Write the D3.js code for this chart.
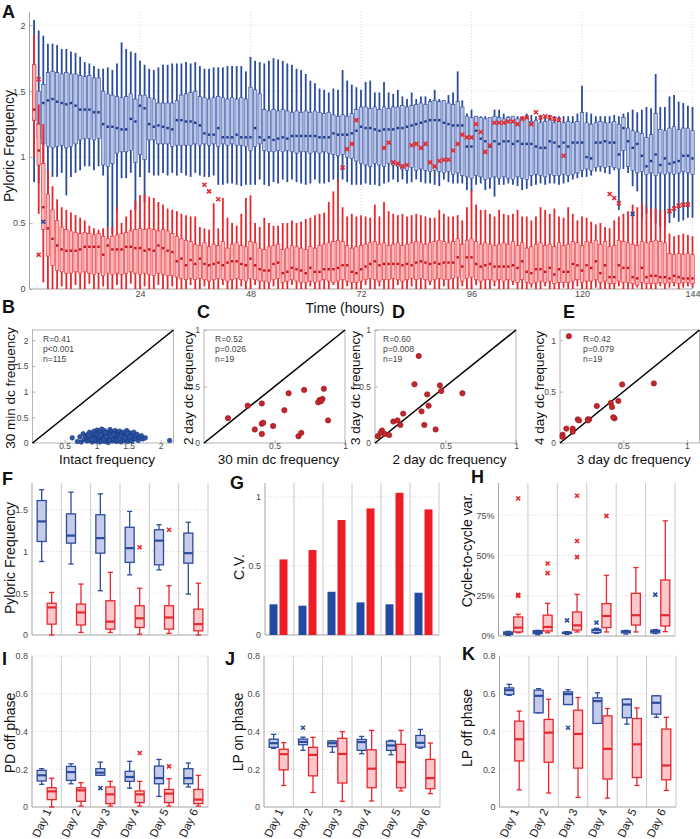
<!DOCTYPE html>
<html>
<head>
<meta charset="utf-8">
<script src="https://cdn.jsdelivr.net/npm/d3@7"></script>
<style>
html,body{margin:0;padding:0;background:#fff;}
svg{display:block;}
</style>
</head>
<body>
<svg id="fig" width="700" height="839" xmlns="http://www.w3.org/2000/svg"></svg>
<script>
// ================= DATA =================
// Panel A: hourly box statistics (hours 1..144)
const hours = d3.range(1, 145);
const aXTicks = [24, 48, 72, 96, 120, 144];
const aYTicks = [0, 0.5, 1, 1.5, 2];

const blueHi = [
2.04,1.96,1.92,1.86,1.86,1.85,1.82,1.82,1.80,1.79,
1.76,1.72,1.71,1.69,1.67,1.67,1.68,1.66,1.71,1.87,
1.82,1.80,1.79,1.73,1.70,1.67,1.66,1.68,1.70,1.70,
1.71,1.71,1.71,1.72,1.71,1.72,1.69,1.67,1.67,1.68,
1.68,1.68,1.69,1.69,1.69,1.69,1.65,1.76,1.73,1.72,
1.71,1.73,1.75,1.74,1.73,1.71,1.70,1.67,1.66,1.63,
1.58,1.56,1.52,1.51,1.49,1.52,1.51,1.66,1.58,1.55,
1.53,1.51,1.57,1.58,1.49,1.49,1.57,1.49,1.48,1.51,
1.46,1.44,1.49,1.44,1.46,1.46,1.44,1.51,1.44,1.43,
1.47,1.49,1.65,1.43,1.33,1.36,1.31,1.31,1.31,1.28,
1.36,1.36,1.33,1.31,1.31,1.31,1.31,1.33,1.32,1.31,
1.32,1.31,1.32,1.31,1.31,1.31,1.31,1.31,1.33,1.54,
1.34,1.33,1.31,1.31,1.31,1.31,1.32,1.31,1.33,1.34,
1.36,1.34,1.36,1.38,1.37,1.63,1.38,1.38,1.46,1.47,
1.42,1.41,1.39,1.38];
const blueQ3 = [
1.70,1.50,1.55,1.64,1.65,1.64,1.63,1.64,1.63,1.63,
1.62,1.61,1.62,1.60,1.60,1.50,1.48,1.47,1.46,1.45,
1.46,1.48,1.44,1.47,1.47,1.45,1.44,1.41,1.41,1.41,
1.41,1.43,1.47,1.48,1.49,1.50,1.46,1.45,1.44,1.45,
1.46,1.45,1.44,1.45,1.44,1.45,1.44,1.53,1.51,1.48,
1.36,1.35,1.36,1.35,1.36,1.35,1.34,1.35,1.34,1.35,
1.34,1.35,1.34,1.33,1.34,1.32,1.31,1.32,1.31,1.33,
1.36,1.38,1.38,1.37,1.38,1.36,1.38,1.37,1.38,1.38,
1.39,1.38,1.39,1.40,1.41,1.40,1.42,1.43,1.42,1.43,
1.41,1.40,1.42,1.38,1.31,1.30,1.31,1.30,1.29,1.30,
1.31,1.30,1.29,1.30,1.31,1.29,1.30,1.30,1.27,1.28,
1.26,1.27,1.28,1.26,1.27,1.26,1.27,1.26,1.27,1.34,
1.26,1.25,1.26,1.27,1.26,1.26,1.27,1.25,1.30,1.22,
1.20,1.19,1.18,1.15,1.17,1.33,1.21,1.20,1.22,1.23,
1.21,1.22,1.22,1.20];
const blueMed = [
1.56,1.25,1.41,1.43,1.44,1.42,1.41,1.40,1.41,1.39,
1.36,1.36,1.36,1.34,1.34,1.25,1.23,1.23,1.22,1.21,
1.21,1.29,1.27,1.39,1.37,1.25,1.23,1.24,1.23,1.22,
1.21,1.28,1.28,1.27,1.27,1.26,1.24,1.18,1.17,1.17,
1.22,1.15,1.15,1.15,1.17,1.15,1.15,1.15,1.22,1.15,
1.13,1.15,1.13,1.14,1.15,1.14,1.16,1.16,1.16,1.16,
1.16,1.16,1.15,1.15,1.15,1.18,1.17,1.17,1.17,1.18,
1.20,1.23,1.22,1.22,1.21,1.20,1.21,1.21,1.21,1.22,
1.22,1.23,1.24,1.25,1.26,1.27,1.28,1.28,1.28,1.26,
1.25,1.24,1.24,1.24,1.08,1.08,1.20,1.14,1.12,1.08,
1.12,1.10,1.12,1.12,1.10,1.12,1.10,1.10,1.10,1.08,
1.07,1.07,1.12,1.11,1.08,1.11,1.08,1.11,1.11,1.11,
1.00,0.99,1.11,1.11,1.12,1.11,1.11,1.02,1.22,1.12,
1.07,1.10,1.01,0.93,0.97,1.02,0.94,0.99,0.95,0.96,
0.97,1.01,1.01,0.99];
const blueQ1 = [
1.28,1.14,1.10,1.08,1.07,1.08,1.09,1.07,1.08,1.10,
1.13,1.14,1.14,1.13,1.14,0.94,0.93,0.95,1.03,1.04,
1.04,1.05,0.96,1.02,0.98,1.13,1.13,1.10,1.10,1.10,
1.08,1.09,1.09,1.09,1.09,1.10,1.09,1.10,1.09,1.10,
1.08,1.10,1.09,1.10,1.09,1.09,1.08,1.05,1.08,1.10,
1.05,1.04,1.04,1.05,1.04,1.05,1.04,1.03,1.04,1.04,
1.03,1.04,1.03,1.04,1.03,1.02,1.01,1.02,1.00,0.99,
0.97,0.95,0.94,0.93,0.95,0.94,0.93,0.95,0.94,0.93,
0.91,0.90,0.92,0.90,0.91,0.90,0.89,0.90,0.89,0.88,
0.89,0.87,0.88,0.86,0.85,0.84,0.86,0.85,0.83,0.84,
0.85,0.84,0.85,0.84,0.83,0.85,0.84,0.83,0.86,0.87,
0.86,0.85,0.87,0.86,0.86,0.87,0.86,0.87,0.88,0.90,
0.91,0.90,0.92,0.93,0.92,0.93,0.92,0.91,1.05,0.93,
0.90,0.88,0.89,0.87,0.88,0.86,0.88,0.87,0.88,0.87,
0.88,0.89,0.88,0.87];
const blueLo = [
0.81,0.80,0.90,0.57,0.85,0.85,0.88,0.71,0.85,0.88,
0.90,0.93,0.93,0.90,0.93,0.86,0.47,0.42,0.60,0.84,
0.84,0.88,0.60,0.85,0.66,0.88,0.86,0.86,0.88,0.86,
0.88,0.86,0.88,0.86,0.85,0.88,0.86,0.85,0.85,0.86,
0.79,0.79,0.80,0.80,0.79,0.78,0.79,0.79,0.79,0.83,
0.79,0.78,0.81,0.80,0.83,0.81,0.83,0.81,0.80,0.79,
0.80,0.83,0.80,0.80,0.81,0.83,0.81,0.83,0.81,0.79,
0.79,0.79,0.80,0.79,0.79,0.78,0.80,0.81,0.83,0.81,
0.83,0.80,0.81,0.83,0.81,0.80,0.80,0.79,0.78,0.83,
0.81,0.80,0.80,0.80,0.75,0.74,0.79,0.80,0.75,0.76,
0.70,0.79,0.79,0.80,0.79,0.78,0.75,0.76,0.78,0.79,
0.80,0.79,0.80,0.80,0.79,0.80,0.81,0.83,0.84,0.85,
0.85,0.86,0.89,0.89,0.88,0.87,0.90,0.60,0.91,0.88,
0.78,0.74,0.54,0.57,0.54,0.50,0.47,0.48,0.50,0.54,
0.51,0.52,0.54,0.54];

const redHi = [
1.93,1.40,1.25,0.90,0.78,0.68,0.62,0.60,0.58,0.56,
0.54,0.52,0.48,0.46,0.45,0.46,0.47,0.47,0.62,0.50,
0.55,0.60,0.67,0.71,0.72,0.70,0.69,0.66,0.64,0.61,
0.60,0.59,0.57,0.56,0.55,0.55,0.47,0.46,0.45,0.65,
0.46,0.69,0.54,0.50,0.48,0.57,0.69,0.71,0.50,0.47,
0.54,0.50,0.48,0.48,0.50,0.50,0.52,0.50,0.51,0.53,
0.54,0.56,0.57,0.58,0.66,0.74,0.83,0.62,0.55,0.57,
0.55,0.56,0.55,0.54,0.64,0.55,0.66,0.59,0.57,0.56,
0.57,0.55,0.56,0.57,0.56,0.55,0.54,0.54,0.60,0.57,
0.55,0.55,0.56,0.52,0.62,0.75,0.64,0.60,0.60,0.57,
0.55,0.60,0.57,0.56,0.57,0.60,0.55,0.55,0.52,0.55,
0.62,0.60,0.57,0.61,0.55,0.54,0.62,0.57,0.52,0.55,
0.54,0.51,0.49,0.50,0.47,0.46,0.52,0.55,0.57,0.59,
0.64,0.62,0.65,0.62,0.61,0.61,0.60,0.59,0.42,0.40,
0.41,0.42,0.41,0.40];
const redQ3 = [
1.70,1.25,0.95,0.72,0.60,0.52,0.47,0.45,0.44,0.43,
0.42,0.43,0.42,0.41,0.42,0.40,0.38,0.40,0.41,0.42,
0.43,0.44,0.45,0.46,0.45,0.46,0.45,0.44,0.45,0.44,
0.42,0.40,0.38,0.37,0.36,0.34,0.33,0.35,0.32,0.34,
0.33,0.36,0.31,0.34,0.35,0.33,0.32,0.36,0.35,0.31,
0.30,0.32,0.33,0.34,0.30,0.31,0.33,0.32,0.31,0.30,
0.32,0.31,0.33,0.34,0.35,0.36,0.37,0.36,0.33,0.31,
0.32,0.33,0.34,0.35,0.36,0.34,0.35,0.33,0.34,0.35,
0.33,0.34,0.35,0.36,0.35,0.34,0.35,0.36,0.37,0.36,
0.35,0.36,0.38,0.34,0.37,0.38,0.36,0.34,0.35,0.34,
0.33,0.34,0.35,0.34,0.36,0.33,0.35,0.31,0.32,0.34,
0.35,0.33,0.34,0.32,0.35,0.33,0.34,0.36,0.35,0.33,
0.36,0.35,0.37,0.34,0.36,0.32,0.33,0.37,0.36,0.35,
0.34,0.33,0.36,0.35,0.36,0.37,0.36,0.35,0.27,0.26,
0.27,0.26,0.27,0.26];
const redMed = [
1.36,1.05,0.62,0.46,0.38,0.33,0.30,0.29,0.29,0.29,
0.30,0.32,0.32,0.32,0.32,0.26,0.33,0.30,0.30,0.30,
0.32,0.32,0.31,0.31,0.29,0.30,0.29,0.33,0.31,0.29,
0.28,0.21,0.23,0.18,0.22,0.19,0.23,0.19,0.18,0.19,
0.20,0.18,0.20,0.21,0.21,0.19,0.18,0.23,0.18,0.15,
0.14,0.14,0.19,0.20,0.12,0.13,0.16,0.15,0.14,0.12,
0.16,0.13,0.13,0.15,0.15,0.15,0.16,0.18,0.18,0.13,
0.12,0.15,0.17,0.19,0.21,0.18,0.19,0.19,0.19,0.19,
0.18,0.19,0.18,0.20,0.21,0.20,0.19,0.20,0.19,0.20,
0.20,0.20,0.24,0.17,0.24,0.24,0.19,0.17,0.18,0.19,
0.17,0.17,0.17,0.17,0.18,0.16,0.21,0.13,0.12,0.15,
0.15,0.13,0.16,0.11,0.15,0.13,0.13,0.19,0.18,0.14,
0.18,0.16,0.21,0.12,0.18,0.09,0.09,0.18,0.16,0.16,
0.09,0.08,0.16,0.09,0.10,0.10,0.09,0.09,0.08,0.10,
0.09,0.08,0.08,0.08];
const redQ1 = [
1.28,0.94,0.45,0.25,0.18,0.14,0.13,0.12,0.12,0.13,
0.12,0.13,0.12,0.11,0.12,0.10,0.12,0.11,0.12,0.11,
0.12,0.13,0.12,0.11,0.12,0.11,0.10,0.12,0.11,0.10,
0.10,0.09,0.08,0.07,0.08,0.07,0.08,0.07,0.06,0.07,
0.08,0.07,0.06,0.07,0.08,0.07,0.06,0.08,0.07,0.06,
0.06,0.05,0.07,0.08,0.05,0.06,0.07,0.06,0.05,0.05,
0.06,0.05,0.06,0.07,0.06,0.05,0.06,0.07,0.06,0.05,
0.05,0.06,0.07,0.08,0.07,0.06,0.07,0.07,0.08,0.07,
0.06,0.07,0.08,0.07,0.08,0.07,0.06,0.07,0.08,0.07,
0.07,0.08,0.09,0.06,0.08,0.09,0.07,0.06,0.07,0.07,
0.06,0.07,0.06,0.07,0.06,0.05,0.07,0.05,0.04,0.05,
0.06,0.05,0.06,0.04,0.05,0.05,0.05,0.06,0.07,0.05,
0.06,0.06,0.07,0.05,0.06,0.04,0.04,0.06,0.05,0.05,
0.04,0.03,0.05,0.04,0.04,0.04,0.05,0.04,0.05,0.05,
0.04,0.05,0.05,0.04];
const redLo = [
1.00,0.57,0.05,0.00,0.00,0.00,0.02,0.00,0.00,0.03,
0.00,0.00,0.04,0.00,0.00,0.02,0.00,0.00,0.03,0.00,
0.00,0.04,0.00,0.00,0.02,0.00,0.00,0.03,0.00,0.00,
0.02,0.00,0.00,0.00,0.03,0.00,0.00,0.02,0.00,0.00,
0.00,0.03,0.00,0.00,0.00,0.02,0.00,0.00,0.03,0.00,
0.00,0.00,0.02,0.00,0.00,0.00,0.03,0.00,0.00,0.00,
0.02,0.00,0.00,0.00,0.00,0.03,0.00,0.00,0.02,0.00,
0.00,0.00,0.03,0.00,0.00,0.02,0.00,0.00,0.00,0.03,
0.00,0.00,0.02,0.00,0.00,0.00,0.03,0.00,0.00,0.02,
0.00,0.00,0.00,0.02,0.00,0.00,0.03,0.00,0.00,0.00,
0.02,0.00,0.00,0.00,0.03,0.00,0.00,0.00,0.01,0.00,
0.00,0.02,0.00,0.00,0.00,0.01,0.00,0.00,0.02,0.00,
0.00,0.00,0.01,0.00,0.00,0.00,0.00,0.02,0.00,0.00,
0.00,0.01,0.00,0.00,0.00,0.00,0.02,0.00,0.01,0.02,
0.00,0.01,0.02,0.01];
const redOutliersA = [[2,1.59],[2,0.26],[38,0.79],[39,0.74],[41,0.68],[68,0.92],[69,1.06],[70,1.10],[71,1.28],
[77,1.07],[78,1.11],[79,0.96],[80,0.95],[81,0.93],[82,0.94],[83,1.09],[84,1.10],[85,1.07],[86,1.10],[87,0.96],
[88,0.93],[89,0.97],[90,0.98],[91,0.98],[92,1.05],[93,1.10],[94,1.17],[95,1.15],[96,1.15],[97,1.25],[98,1.19],
[99,1.04],[100,1.09],[101,1.26],[102,1.26],[103,1.26],[104,1.27],[105,1.27],[106,1.25],[107,1.29],[108,1.30],
[109,1.25],[110,1.34],[111,1.30],[112,1.31],[113,1.30],[114,1.29],[115,1.28],[116,1.01],[126,0.72],[127,0.69],
[128,0.65],[139,0.59],[140,0.61],[141,0.63],[142,0.64],[143,0.64]];
const blueOutliersA = [[3,0.51],[131,0.57]];

// Panels B-E: scatter points [x, y]
const intactVs30min = [
[0.62,0.10],[0.70,0.03],[0.74,0.12],[0.76,0.02],[0.79,0.18],[0.81,0.07],[0.83,0.13],[0.85,0.04],[0.86,0.16],[0.88,0.09],
[0.89,0.21],[0.90,0.05],[0.91,0.14],[0.92,0.11],[0.93,0.02],[0.94,0.18],[0.95,0.08],[0.96,0.23],[0.97,0.13],[0.98,0.04],
[0.99,0.17],[1.00,0.10],[1.01,0.25],[1.02,0.06],[1.03,0.20],[1.04,0.14],[1.05,0.02],[1.06,0.22],[1.07,0.09],[1.08,0.27],
[1.09,0.15],[1.10,0.05],[1.10,0.19],[1.11,0.11],[1.12,0.24],[1.13,0.03],[1.14,0.16],[1.15,0.08],[1.16,0.21],[1.17,0.13],
[1.18,0.01],[1.19,0.18],[1.20,0.10],[1.21,0.26],[1.22,0.06],[1.23,0.15],[1.24,0.22],[1.25,0.04],[1.26,0.12],[1.27,0.19],
[1.28,0.08],[1.29,0.24],[1.30,0.14],[1.31,0.03],[1.32,0.20],[1.33,0.10],[1.34,0.17],[1.35,0.06],[1.36,0.23],[1.37,0.12],
[1.38,0.02],[1.39,0.19],[1.40,0.09],[1.41,0.15],[1.42,0.21],[1.43,0.05],[1.44,0.13],[1.45,0.18],[1.46,0.08],[1.47,0.24],
[1.48,0.11],[1.49,0.03],[1.50,0.16],[1.51,0.20],[1.52,0.07],[1.53,0.13],[1.54,0.18],[1.55,0.04],[1.56,0.10],[1.57,0.15],
[1.58,0.21],[1.60,0.08],[1.61,0.13],[1.63,0.17],[1.65,0.05],[1.67,0.11],[1.70,0.14],[1.72,0.08],[1.76,0.10],[0.97,0.06],
[1.03,0.12],[1.08,0.04],[1.13,0.20],[1.18,0.14],[1.24,0.09],[1.29,0.16],[1.35,0.13],[1.42,0.07],[1.47,0.16],[1.02,0.16],
[1.12,0.07],[1.22,0.13],[1.32,0.06],[1.44,0.10],[0.88,0.15],[0.93,0.07],[1.15,0.12],[1.26,0.17],[1.38,0.14],[1.52,0.12],
[1.06,0.15],[1.36,0.09],[1.48,0.19],[1.20,0.05],[2.14,0.05]];
const min30Vs2day = [[0.17,0.22],[0.31,0.33],[0.41,0.35],[0.41,0.17],[0.36,0.12],[0.41,0.08],[0.49,0.15],[0.57,0.29],[0.60,0.44],[0.71,0.47],
[0.67,0.06],[0.69,0.09],[0.82,0.38],[0.84,0.39],[0.85,0.48],[0.81,0.36],[0.88,0.20],[0.83,0.37],[0.42,0.18]];
const day2Vs3day = [[0.31,0.77],[0.28,0.52],[0.46,0.51],[0.47,0.46],[0.37,0.43],[0.62,0.44],[0.38,0.33],[0.33,0.28],[0.20,0.26],[0.13,0.19],
[0.16,0.20],[0.18,0.16],[0.35,0.16],[0.43,0.12],[0.05,0.11],[0.04,0.09],[0.07,0.08],[0.10,0.07],[0.02,0.06]];
const day3Vs4day = [[0.07,1.04],[0.74,0.58],[0.49,0.57],[0.46,0.41],[0.40,0.39],[0.41,0.35],[0.29,0.36],[0.43,0.24],[0.22,0.23],[0.23,0.23],
[0.14,0.23],[0.15,0.22],[0.10,0.14],[0.05,0.14],[0.10,0.11],[0.02,0.08],[0.02,0.06],[0.22,0.22],[0.42,0.25]];
const statsB = ["R=0.41", "p<0.001", "n=115"];
const statsC = ["R=0.52", "p=0.026", "n=19"];
const statsD = ["R=0.60", "p=0.008", "n=19"];
const statsE = ["R=0.42", "p=0.079", "n=19"];

// Panels F-K: per-day box stats [hi, q3, median, q1, lo]
const days = ["Day 1", "Day 2", "Day 3", "Day 4", "Day 5", "Day 6"];
const fBlue = [[1.74,1.61,1.36,1.12,0.88],[1.71,1.45,1.19,1.10,0.85],[1.69,1.44,1.16,0.98,0.53],[1.48,1.29,1.04,0.87,0.72],[1.32,1.26,1.13,0.84,0.78],[1.35,1.22,0.98,0.86,0.49]];
const fRed  = [[0.51,0.38,0.33,0.13,0.00],[0.61,0.37,0.27,0.12,0.03],[0.75,0.41,0.16,0.07,0.03],[0.56,0.35,0.20,0.09,0.01],[0.59,0.35,0.21,0.07,0.02],[0.62,0.31,0.13,0.05,0.00]];
const fRedOut = [[4,1.05],[5,1.26]];
const gBlueCV = [0.222,0.212,0.313,0.236,0.222,0.306];
const gRedCV  = [0.547,0.615,0.832,0.916,1.029,0.909];
const hBlue = [[0.029,0.025,0.017,0.010,0.004],[0.035,0.033,0.025,0.015,0.008],[0.027,0.023,0.020,0.016,0.010],[0.048,0.041,0.037,0.021,0.016],[0.035,0.030,0.029,0.020,0.012],[0.040,0.036,0.031,0.020,0.015]];
const hRed  = [[0.135,0.118,0.052,0.025,0.020],[0.203,0.129,0.056,0.031,0.020],[0.259,0.149,0.066,0.037,0.025],[0.377,0.201,0.124,0.052,0.025],[0.425,0.265,0.129,0.068,0.025],[0.715,0.348,0.129,0.062,0.027]];
const hRedOut = [[1,0.854],[1,0.255],[1,0.249],[2,0.45],[2,0.39],[3,0.871],[3,0.59],[3,0.49],[4,0.746]];
const hBlueOut = [[3,0.097],[4,0.083],[6,0.257]];
const iBlue = [[0.203,0.194,0.168,0.138,0.120],[0.229,0.215,0.185,0.141,0.123],[0.238,0.203,0.182,0.168,0.168],[0.242,0.189,0.159,0.136,0.100],[0.252,0.217,0.153,0.123,0.056],[0.233,0.203,0.153,0.123,0.106]];
const iRed  = [[0.153,0.102,0.083,0.039,0.000],[0.129,0.102,0.088,0.030,0.005],[0.136,0.106,0.067,0.018,0.005],[0.136,0.085,0.067,0.023,0.005],[0.150,0.093,0.071,0.023,0.005],[0.168,0.093,0.039,0.018,0.005]];
const iBlueOut = [[3,0.10]];
const iRedOut = [[4,0.286],[5,0.215]];
const jBlue = [[0.385,0.359,0.338,0.316,0.311],[0.370,0.360,0.345,0.330,0.300],[0.350,0.350,0.338,0.320,0.290],[0.374,0.358,0.344,0.300,0.282],[0.353,0.349,0.326,0.300,0.277],[0.411,0.379,0.340,0.317,0.312]];
const jRed  = [[0.341,0.306,0.280,0.197,0.114],[0.369,0.316,0.276,0.165,0.077],[0.399,0.364,0.281,0.127,0.030],[0.406,0.303,0.203,0.102,0.032],[0.406,0.332,0.238,0.102,0.085],[0.339,0.252,0.153,0.097,0.071]];
const jBlueOut = [[2,0.42]];
const kBlue = [[0.650,0.631,0.619,0.596,0.592],[0.627,0.619,0.589,0.499,0.499],[0.622,0.610,0.598,0.543,0.543],[0.605,0.578,0.561,0.443,0.443],[0.571,0.571,0.543,0.473,0.439],[0.589,0.589,0.552,0.492,0.475]];
const kRed  = [[0.508,0.455,0.359,0.244,0.091],[0.571,0.464,0.394,0.237,0.074],[0.580,0.513,0.387,0.206,0.051],[0.522,0.483,0.308,0.148,0.047],[0.525,0.469,0.332,0.156,0.114],[0.475,0.413,0.220,0.144,0.088]];
const kBlueOut = [[3,0.42]];

// ================= DRAWING =================
const FONT = '"Liberation Sans", Arial, Helvetica, sans-serif';
const C = {
  blue: "#2b4c9c", blueFill: "#bbc5e7", blueDark: "#1c3a8c",
  red: "#e8272d", redFill: "#f9b8bc", redDark: "#c3151b",
  grid: "#cfcfcf", axis: "#a3a3a3", tick: "#4a4a4a", sep: "#cacaca",
  barBlue: "#2449a3", barRed: "#ee1c24"
};
const svg = d3.select("#fig").style("font-family", FONT);

function styleAxis(g, size) {
  g.select(".domain").remove();
  g.attr("font-family", FONT);
  g.selectAll(".tick line").attr("stroke", C.axis).attr("stroke-width", 0.8);
  g.selectAll(".tick text").attr("fill", C.tick).attr("font-size", size);
}
function letter(t, x, y) {
  svg.append("text").attr("x", x).attr("y", y).attr("font-size", 18).attr("font-weight", "bold")
    .attr("fill", "#111").text(t);
}
function yLabel(t, x, y, size) {
  svg.append("text").attr("transform", `translate(${x},${y}) rotate(-90)`).attr("text-anchor", "middle")
    .attr("font-size", size || 14).attr("fill", "#111").text(t);
}
function xLabel(t, x, y, size) {
  svg.append("text").attr("x", x).attr("y", y).attr("text-anchor", "middle")
    .attr("font-size", size || 14).attr("fill", "#111").text(t);
}
function xMark(g, cx, cy, s, col, w) {
  g.append("path").attr("d", `M${cx-s},${cy-s}L${cx+s},${cy+s}M${cx-s},${cy+s}L${cx+s},${cy-s}`)
    .attr("stroke", col).attr("stroke-width", w).attr("fill", "none");
}

// ---------- Panel A ----------
(function () {
  const x = d3.scaleLinear().domain([0, 144]).range([29.5, 692.5]);
  const y = d3.scaleLinear().domain([0, 2.1]).range([289, 12]);
  const g = svg.append("g");
  g.append("g").selectAll("line").data(aYTicks.filter(t => t > 0)).join("line")
    .attr("x1", x(0)).attr("x2", x(144)).attr("y1", d => y(d)).attr("y2", d => y(d))
    .attr("stroke", C.grid).attr("stroke-width", 0.8).attr("stroke-dasharray", "1,2");
  g.append("g").selectAll("line").data(aXTicks).join("line")
    .attr("x1", d => x(d)).attr("x2", d => x(d)).attr("y1", y(0)).attr("y2", y(2.1))
    .attr("stroke", C.grid).attr("stroke-width", 0.8).attr("stroke-dasharray", "1,2");
  g.append("line").attr("x1", x(0)).attr("x2", x(0)).attr("y1", y(0)).attr("y2", y(2.1)).attr("stroke", C.axis);
  g.append("line").attr("x1", x(0)).attr("x2", x(144)).attr("y1", y(0)).attr("y2", y(0)).attr("stroke", C.axis);
  styleAxis(g.append("g").attr("transform", `translate(${x(0)},0)`)
    .call(d3.axisLeft(y).tickValues(aYTicks).tickFormat(d3.format("~g")).tickSizeInner(-3).tickSizeOuter(0).tickPadding(4)), 9);
  styleAxis(g.append("g").attr("transform", `translate(0,${y(0)})`)
    .call(d3.axisBottom(x).tickValues(aXTicks).tickFormat(d3.format("d")).tickSizeInner(-3).tickSizeOuter(0).tickPadding(2)), 9);

  function series(hi, q3, med, q1, lo, col, fill, dark) {
    const s = g.append("g");
    s.append("g").selectAll("line").data(hours).join("line")
      .attr("x1", h => x(h)).attr("x2", h => x(h))
      .attr("y1", (h, i) => y(lo[i])).attr("y2", (h, i) => y(hi[i]))
      .attr("stroke", col).attr("stroke-width", 1.8);
    s.append("g").selectAll("rect").data(hours).join("rect")
      .attr("x", h => x(h) - 1.75).attr("width", 3.5)
      .attr("y", (h, i) => y(q3[i])).attr("height", (h, i) => y(q1[i]) - y(q3[i]))
      .attr("fill", fill).attr("stroke", col).attr("stroke-width", 0.6);
    s.append("g").selectAll("rect").data(hours).join("rect")
      .attr("x", h => x(h) - 1.2).attr("width", 2.4)
      .attr("y", (h, i) => y(med[i]) - 1.2).attr("height", 2.4).attr("fill", dark);
  }
  series(blueHi, blueQ3, blueMed, blueQ1, blueLo, C.blue, C.blueFill, C.blueDark);
  series(redHi, redQ3, redMed, redQ1, redLo, C.red, C.redFill, C.redDark);
  const o = g.append("g");
  blueOutliersA.forEach(d => xMark(o, x(d[0]), y(d[1]), 2, C.blue, 1.6));
  redOutliersA.forEach(d => xMark(o, x(d[0]), y(d[1]), 2, C.red, 1.6));
  yLabel("Pyloric Frequency", 14, 146);
  xLabel("Time (hours)", 345, 313);
  letter("A", 2, 18);
})();

// ---------- Panels B-E ----------
function scatterPanel(p) {
  const x = d3.scaleLinear().domain([0, p.max]).range([p.left, p.right]);
  const y = d3.scaleLinear().domain([0, p.max]).range([443, 330]);
  const g = svg.append("g");
  g.append("rect").attr("x", p.left).attr("y", 330).attr("width", p.right - p.left).attr("height", 113)
    .attr("fill", "none").attr("stroke", C.axis).attr("stroke-width", 0.8);
  styleAxis(g.append("g").attr("transform", "translate(0,443)")
    .call(d3.axisBottom(x).tickValues(p.xticks).tickFormat(d3.format("~g")).tickSizeInner(-3).tickSizeOuter(0).tickPadding(0)), 8.5);
  styleAxis(g.append("g").attr("transform", `translate(${p.left},0)`)
    .call(d3.axisLeft(y).tickValues(p.yticks).tickFormat(d3.format("~g")).tickSizeInner(-3).tickSizeOuter(0).tickPadding(4)), 8.5);
  g.append("line").attr("x1", x(0)).attr("y1", y(0)).attr("x2", x(p.max)).attr("y2", y(p.max))
    .attr("stroke", "#000").attr("stroke-width", 1.6);
  g.append("g").selectAll("circle").data(p.pts).join("circle")
    .attr("cx", d => x(d[0])).attr("cy", d => y(d[1])).attr("r", p.r)
    .attr("fill", p.fill).attr("stroke", p.stroke).attr("stroke-width", 0.6);
  p.stats.forEach((s, i) => g.append("text").attr("x", p.tx).attr("y", 341.5 + i * 10)
    .attr("font-size", 8.5).attr("fill", "#444").text(s));
  yLabel(p.ylab, p.ylx, 388, 13.5);
  xLabel(p.xlab, (p.left + p.right) / 2 + 4, 464, 13.5);
  letter(p.letter, p.lx, p.ly);
}
scatterPanel({left: 32.5, right: 173.5, max: 2.2, xticks: [0.5, 1, 1.5, 2], yticks: [0, 0.5, 1, 1.5, 2],
  pts: intactVs30min, r: 2.3, fill: "#2d55a8", stroke: "#173575", stats: statsB, tx: 43,
  ylab: "30 min dc frequency", ylx: 15, xlab: "Intact frequency", letter: "B", lx: 2, ly: 313});
scatterPanel({left: 204, right: 345, max: 1, xticks: [0.5, 1], yticks: [0, 0.5, 1],
  pts: min30Vs2day, r: 2.7, fill: "#c4262c", stroke: "#8f1a1e", stats: statsC, tx: 215,
  ylab: "2 day dc frequency", ylx: 193, xlab: "30 min dc frequency", letter: "C", lx: 197, ly: 318});
scatterPanel({left: 375, right: 516, max: 1, xticks: [0.5, 1], yticks: [0, 0.5, 1],
  pts: day2Vs3day, r: 2.7, fill: "#c4262c", stroke: "#8f1a1e", stats: statsD, tx: 383,
  ylab: "3 day dc frequency", ylx: 360, xlab: "2 day dc frequency", letter: "D", lx: 392, ly: 318});
scatterPanel({left: 560, right: 699.5, max: 1.1, xticks: [0.5, 1], yticks: [0, 0.5, 1],
  pts: day3Vs4day, r: 2.7, fill: "#c4262c", stroke: "#8f1a1e", stats: statsE, tx: 583,
  ylab: "4 day dc frequency", ylx: 544, xlab: "3 day dc frequency", letter: "E", lx: 563, ly: 318});

// ---------- Panels F-K ----------
function groupPanel(p) {
  const x = d3.scaleBand().domain(days).range([p.left, p.right]);
  const y = d3.scaleLinear().domain([0, p.max]).range([p.bottom, p.top]);
  const cx = d => x(d) + x.bandwidth() / 2;
  const g = svg.append("g");
  g.append("g").selectAll("line").data(p.yticks.filter(t => t > 0)).join("line")
    .attr("x1", p.left).attr("x2", p.right).attr("y1", d => y(d)).attr("y2", d => y(d))
    .attr("stroke", C.grid).attr("stroke-width", 0.8).attr("stroke-dasharray", "1,2");
  g.append("g").selectAll("line").data(days.slice(1)).join("line")
    .attr("x1", d => x(d)).attr("x2", d => x(d)).attr("y1", p.top).attr("y2", p.bottom)
    .attr("stroke", C.sep).attr("stroke-width", 1);
  g.append("line").attr("x1", p.right).attr("x2", p.right).attr("y1", p.top).attr("y2", p.bottom).attr("stroke", C.sep);
  g.append("line").attr("x1", p.left).attr("x2", p.left).attr("y1", p.top).attr("y2", p.bottom).attr("stroke", C.axis);
  g.append("line").attr("x1", p.left).attr("x2", p.right).attr("y1", p.bottom).attr("y2", p.bottom).attr("stroke", C.axis);
  styleAxis(g.append("g").attr("transform", `translate(${p.left},0)`)
    .call(d3.axisLeft(y).tickValues(p.yticks).tickFormat(p.fmt).tickSize(0).tickPadding(4)), 9);
  if (p.dayLabels) {
    g.append("g").selectAll("text").data(days).join("text")
      .attr("transform", d => `translate(${cx(d) + 5},811) rotate(-65)`)
      .attr("text-anchor", "end").attr("font-size", 11.5).attr("fill", "#222").text(d => d);
  }
  function box(c, s, col, fill) {
    const [hi, q3, med, q1, lo] = s, w = 9, cw = 2.6;
    const b = g.append("g");
    b.append("line").attr("x1", c).attr("x2", c).attr("y1", y(hi)).attr("y2", y(q3)).attr("stroke", col).attr("stroke-width", 1.3);
    b.append("line").attr("x1", c).attr("x2", c).attr("y1", y(q1)).attr("y2", y(lo)).attr("stroke", col).attr("stroke-width", 1.3);
    b.append("line").attr("x1", c - cw).attr("x2", c + cw).attr("y1", y(hi)).attr("y2", y(hi)).attr("stroke", col).attr("stroke-width", 1.3);
    b.append("line").attr("x1", c - cw).attr("x2", c + cw).attr("y1", y(lo)).attr("y2", y(lo)).attr("stroke", col).attr("stroke-width", 1.3);
    b.append("rect").attr("x", c - w / 2).attr("width", w).attr("y", y(q3)).attr("height", Math.max(y(q1) - y(q3), 0.8))
      .attr("fill", fill).attr("stroke", col).attr("stroke-width", 1.3);
    b.append("line").attr("x1", c - w / 2).attr("x2", c + w / 2).attr("y1", y(med)).attr("y2", y(med)).attr("stroke", col).attr("stroke-width", 2.2);
  }
  if (p.bars) {
    g.append("g").selectAll("rect").data(days).join("rect")
      .attr("x", d => cx(d) - 10).attr("width", 8).attr("y", (d, i) => y(p.bars[0][i]))
      .attr("height", (d, i) => y(0) - y(p.bars[0][i])).attr("fill", C.barBlue);
    g.append("g").selectAll("rect").data(days).join("rect")
      .attr("x", d => cx(d)).attr("width", 8).attr("y", (d, i) => y(p.bars[1][i]))
      .attr("height", (d, i) => y(0) - y(p.bars[1][i])).attr("fill", C.barRed);
  } else {
    days.forEach((d, i) => {
      box(cx(d) - 5, p.blue[i], C.blue, "#c6cbea");
      box(cx(d) + 5, p.red[i], C.red, "#fcc6ca");
    });
    (p.blueOut || []).forEach(o => xMark(g, cx(days[o[0] - 1]) - 5, y(o[1]), 2, C.blue, 1.6));
    (p.redOut || []).forEach(o => xMark(g, cx(days[o[0] - 1]) + 5, y(o[1]), 2, C.red, 1.6));
  }
}
const fmtNum = d3.format("~g");
const fmtPct = d => Math.round(d * 100) + "%";
groupPanel({left: 32, right: 208, top: 483, bottom: 635, max: 1.82, yticks: [0, 0.5, 1, 1.5], fmt: fmtNum,
  blue: fBlue, red: fRed, redOut: fRedOut});
groupPanel({left: 265, right: 439, top: 483, bottom: 635, max: 1.1, yticks: [0, 0.5, 1], fmt: fmtNum,
  bars: [gBlueCV, gRedCV]});
groupPanel({left: 498.5, right: 675, top: 483, bottom: 636, max: 0.95, yticks: [0, 0.25, 0.5, 0.75], fmt: fmtPct,
  blue: hBlue, red: hRed, redOut: hRedOut, blueOut: hBlueOut});
groupPanel({left: 32, right: 208, top: 656, bottom: 807, max: 0.8, yticks: [0, 0.2, 0.4, 0.6, 0.8], fmt: fmtNum,
  blue: iBlue, red: iRed, blueOut: iBlueOut, redOut: iRedOut, dayLabels: true});
groupPanel({left: 264, right: 440, top: 656, bottom: 807, max: 0.8, yticks: [0, 0.2, 0.4, 0.6, 0.8], fmt: fmtNum,
  blue: jBlue, red: jRed, blueOut: jBlueOut, dayLabels: true});
groupPanel({left: 499.5, right: 676, top: 656, bottom: 807, max: 0.8, yticks: [0, 0.2, 0.4, 0.6, 0.8], fmt: fmtNum,
  blue: kBlue, red: kRed, blueOut: kBlueOut, dayLabels: true});

yLabel("Pyloric Frequency", 15, 558);
yLabel("C.V.", 244, 567);
yLabel("Cycle-to-cycle var.", 472, 550);
yLabel("PD off phase", 15, 733);
yLabel("LP on phase", 243, 732);
yLabel("LP off phase", 472, 728);
letter("F", 2, 485);
letter("G", 230, 489);
letter("H", 471, 483);
letter("I", 2, 665);
letter("J", 225, 665);
letter("K", 462, 660);
</script>
</body>
</html>
